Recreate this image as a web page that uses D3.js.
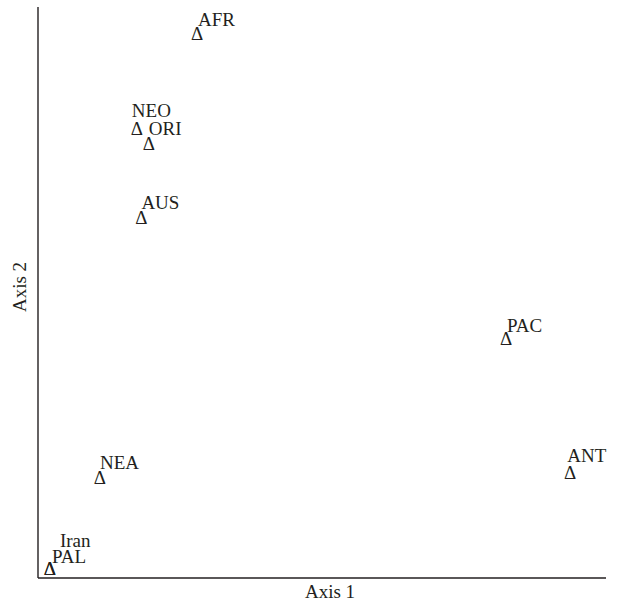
<!DOCTYPE html>
<html>
<head>
<meta charset="utf-8">
<script src="https://cdn.jsdelivr.net/npm/d3@7"></script>
<style>
  body { margin: 0; background: #fff; }
  text { font-family: "Liberation Serif", "DejaVu Serif", serif; fill: #231f20; }
</style>
</head>
<body>
<svg id="chart"></svg>
<script>
// Ordination scores (arbitrary units)
const regions = ['AFR', 'NEO', 'ORI', 'AUS', 'PAC', 'ANT', 'NEA', 'PAL', 'Iran'];
const axis1 = [28.0, 17.4, 19.5, 18.2, 82.4, 93.7, 10.9, 2.1, 2.1];
const axis2 = [95.3, 78.6, 76.0, 63.0, 41.9, 18.4, 17.5, 1.6, 1.6];

const width = 623, height = 602;
const margin = { top: 7, right: 17, bottom: 24, left: 38 };

const svg = d3.select('#chart')
  .attr('width', width)
  .attr('height', height);

const x = d3.scaleLinear().domain([0, 100]).range([margin.left, width - margin.right]);
const y = d3.scaleLinear().domain([0, 100]).range([height - margin.bottom, margin.top]);

// axes are plain lines, no ticks
svg.append('line')
  .attr('x1', x(0)).attr('x2', x(0))
  .attr('y1', y(100)).attr('y2', y(0))
  .attr('stroke', '#231f20').attr('stroke-width', 1.4);
svg.append('line')
  .attr('x1', x(0)).attr('x2', x(100))
  .attr('y1', y(0)).attr('y2', y(0))
  .attr('stroke', '#231f20').attr('stroke-width', 1.4);

const points = regions.map((r, i) => ({ name: r, a1: axis1[i], a2: axis2[i] }));

// labels sit above-right of the marker, a few were nudged in the original
const nudge = { NEO: [-5, -3], Iran: [10, -13], ANT: [-3, -2], PAL: [2, 3], PAC: [1, 2], AFR: [1, 1] };

const g = svg.append('g');

g.selectAll('text.mark')
  .data(points)
  .enter().append('text')
  .attr('class', 'mark')
  .attr('x', d => x(d.a1))
  .attr('y', d => y(d.a2) + 6)
  .attr('text-anchor', 'middle')
  .style('font-size', '19px')
  .text('\u0394');

g.selectAll('text.lbl')
  .data(points)
  .enter().append('text')
  .attr('class', 'lbl')
  .attr('x', d => x(d.a1) + (nudge[d.name] ? nudge[d.name][0] : 0))
  .attr('y', d => y(d.a2) - 9 + (nudge[d.name] ? nudge[d.name][1] : 0))
  .style('font-size', '19px')
  .text(d => d.name);

// Axis titles
svg.append('text')
  .attr('x', 330)
  .attr('y', 598)
  .attr('text-anchor', 'middle')
  .style('font-size', '19px')
  .text('Axis 1');

svg.append('text')
  .attr('transform', 'translate(26,287) rotate(-90)')
  .attr('text-anchor', 'middle')
  .style('font-size', '19px')
  .text('Axis 2');
</script>
</body>
</html>
